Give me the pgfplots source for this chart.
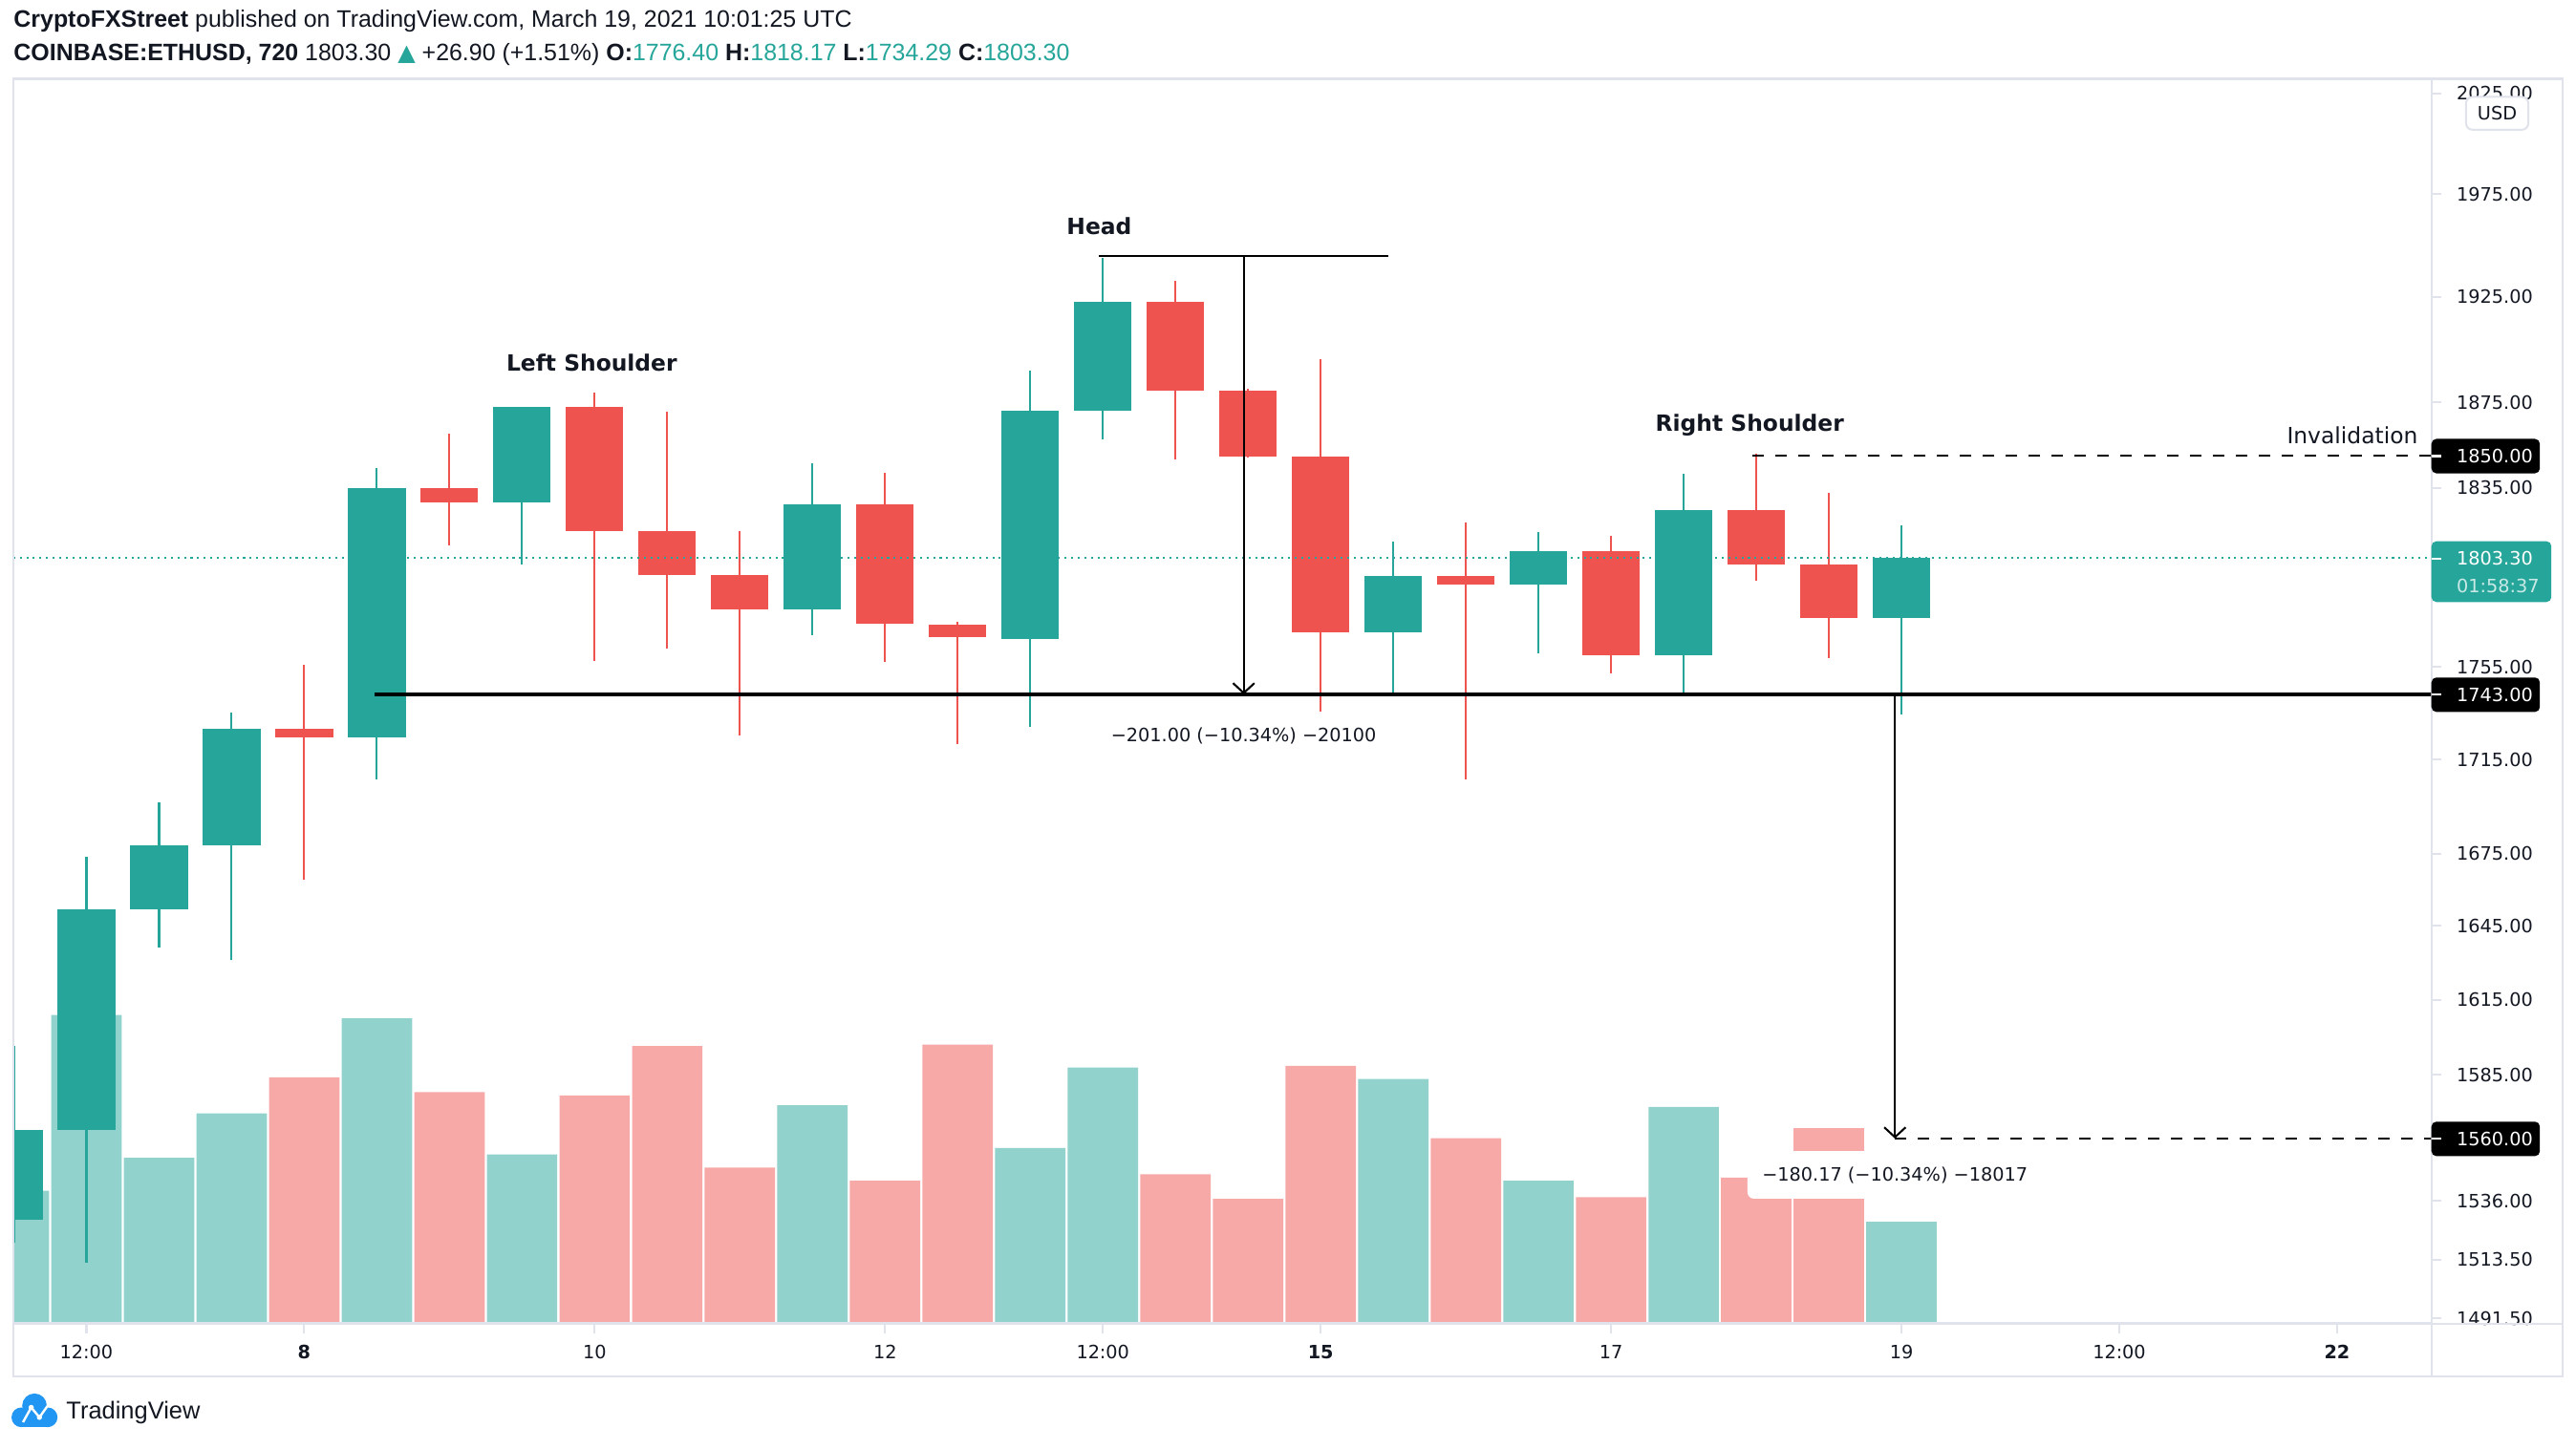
\documentclass[border=0pt]{standalone}
\usepackage{fontspec}
\setmainfont{DejaVu Sans}
\newfontfamily\hdr{Liberation Sans}
\newfontfamily\djv{DejaVu Sans}
\usepackage{pgfplots}
\pgfplotsset{compat=1.18}
\usepackage{pgfplotstable}
\usetikzlibrary{arrows.meta}

\definecolor{tvgreen}{HTML}{26A69A}
\definecolor{tvred}{HTML}{EF5350}
\definecolor{volgreen}{HTML}{92D2CC}
\definecolor{volred}{HTML}{F7A9A7}
\definecolor{tvgrid}{HTML}{E0E3EB}
\definecolor{tvtext}{HTML}{131722}
\definecolor{tvblue}{HTML}{2196F3}

\newcommand\ax{\fontsize{5.6}{8.5}\selectfont}
\newcommand\lbl{\fontsize{6.8}{8}\selectfont}

% 12h candles: index, open, high, low, close, volume (relative)
\pgfplotstableread{
i o h l c v
0 1528.7 1596.5 1520.0 1563.5 81
1 1563.5 1673.7 1512.5 1651.8 188
2 1651.8 1696.5 1636.3 1678.6 101
3 1678.6 1735.0 1631.0 1728.0 128
5 1724.5 1844.4 1706.3 1835.3 186
7 1828.5 1872.6 1800.3 1872.6 103
11 1780.4 1846.6 1768.8 1827.8 133
14 1767.4 1889.6 1728.7 1871.1 107
15 1871.1 1943.6 1857.4 1922.3 156
19 1770.3 1810.6 1743.7 1795.2 149
21 1791.5 1815.0 1761.0 1806.3 87
23 1760.2 1841.4 1743.0 1824.8 132
26 1776.4 1818.17 1734.29 1803.3 62
}\greencandles

\pgfplotstableread{
i o h l c v
4 1728.0 1755.9 1664.0 1724.5 150
6 1835.3 1860.3 1809.0 1828.5 141
8 1872.6 1879.4 1757.3 1815.8 139
9 1815.8 1870.3 1763.0 1795.8 169
10 1795.8 1815.8 1725.2 1780.4 95
12 1827.8 1842.2 1757.0 1774.0 87
13 1773.3 1775.0 1721.6 1768.0 170
16 1922.3 1932.7 1848.2 1880.2 91
17 1880.2 1881.0 1849.0 1849.7 76
18 1849.7 1895.1 1735.0 1770.3 157
20 1795.2 1819.5 1706.3 1791.5 113
22 1806.3 1813.5 1752.3 1760.2 77
24 1824.8 1851.0 1793.0 1800.3 89
25 1800.3 1833.1 1758.7 1776.7 119
}\redcandles

\pgfplotsset{candle/.style={draw=none, no markers, error bars/.cd, y dir=plus, y explicit, error mark=none}}

\begin{document}
\begin{tikzpicture}
\useasboundingbox (0,0) rectangle (784pt,441pt);
\fill[white] (0,0) rectangle (784pt,441pt);

% ---------- volume pane ----------
\begin{axis}[at={(4pt,38pt)}, anchor=south west, scale only axis,
  width=736pt, height=379pt, xmin=-0.01, xmax=33.3, ymin=0, ymax=758,
  hide axis]
\addplot[ybar, bar width=0.97, bar shift=0pt, fill=volgreen, draw=none]
  table[x=i, y=v] {\greencandles};
\addplot[ybar, bar width=0.97, bar shift=0pt, fill=volred, draw=none]
  table[x=i, y=v] {\redcandles};
\end{axis}

% ---------- price pane ----------
\begin{axis}[at={(4pt,38pt)}, anchor=south west, scale only axis,
  width=736pt, height=379pt, xmin=-0.01, xmax=33.3,
  ymode=log, ymin=1489.7, ymax=2032.5,
  axis line style={draw=tvgrid, line width=0.7pt},
  tick style={draw=tvgrid, line width=0.6pt},
  tick align=outside, major tick length=3pt,
  xtick pos=left, ytick pos=right, yticklabel pos=right,
  yminorticks=false, xminorticks=false,
  xtick={1,4,8,12,15,18,22,26,29,32},
  xticklabels={12:00,\textbf{8},10,12,12:00,\textbf{15},17,19,12:00,\textbf{22}},
  ytick={1491.5,1513.5,1536,1560,1585,1615,1645,1675,1715,1755,1795,1835,1875,1925,1975,2025},
  yticklabels={1491.50,1513.50,1536.00,1560.00,1585.00,1615.00,1645.00,1675.00,1715.00,1755.00,{},1835.00,1875.00,1925.00,1975.00,2025.00},
  yticklabel style={font=\ax, text=tvtext, anchor=west, inner xsep=0pt},
  yticklabel shift=4.5pt,
  xticklabel style={font=\ax, text=tvtext, inner ysep=0pt},
  xticklabel shift=3.5pt,
]
% wicks
\addplot[candle, error bar style={draw=tvgreen, line width=0.6pt}]
  table[x=i, y=l, y error expr=\thisrow{h}-\thisrow{l}] {\greencandles};
\addplot[candle, error bar style={draw=tvred, line width=0.6pt}]
  table[x=i, y=l, y error expr=\thisrow{h}-\thisrow{l}] {\redcandles};
% bodies
\addplot[candle, error bar style={draw=tvgreen, line width=17.5pt, line cap=butt}]
  table[x=i, y=o, y error expr=\thisrow{c}-\thisrow{o}] {\greencandles};
\addplot[candle, error bar style={draw=tvred, line width=17.5pt, line cap=butt}]
  table[x=i, y=c, y error expr=\thisrow{o}-\thisrow{c}] {\redcandles};

% last price dotted line
\draw[tvgreen, line width=0.6pt, dash pattern=on 0.6pt off 1.4pt] (axis cs:-0.01,1803.3) -- (axis cs:33.3,1803.3);
% neckline
\draw[black, line width=1pt] (axis cs:4.97,1743) -- (axis cs:33.3,1743);
% head measure
\draw[black, line width=0.6pt] (axis cs:14.95,1944.5) -- (axis cs:18.93,1944.5);
\draw[black, line width=0.6pt, -{Straight Barb[length=3pt,width=6.5pt]}] (axis cs:16.94,1944.5) -- (axis cs:16.94,1743);
% target
\draw[black, line width=0.6pt, -{Straight Barb[length=3pt,width=6.5pt]}] (axis cs:25.91,1743) -- (axis cs:25.91,1560);
\draw[black, line width=0.6pt, dash pattern=on 3.5pt off 3.5pt] (axis cs:25.91,1560) -- (axis cs:33.3,1560);
% invalidation
\draw[black, line width=0.6pt, dash pattern=on 3.5pt off 3.5pt] (axis cs:23.95,1850) -- (axis cs:33.3,1850);
\node[font=\lbl, text=tvtext, anchor=east, inner sep=0pt] at (axis cs:33.12,1859.6) {Invalidation};

% labels
\node[font=\lbl\bfseries, text=tvtext] at (axis cs:14.95,1958.9) {Head};
\node[font=\lbl\bfseries, text=tvtext] at (axis cs:7.96,1893.4) {Left Shoulder};
\node[font=\lbl\bfseries, text=tvtext] at (axis cs:23.91,1864.3) {Right Shoulder};
\node[font=\ax, text=tvtext, fill=white, rounded corners=2pt, inner xsep=4.5pt, minimum height=14.5pt] at (axis cs:16.94,1725.1) {−201.00 (−10.34\%) −20100};
\node[font=\ax, text=tvtext, fill=white, rounded corners=2pt, inner xsep=4.5pt, minimum height=14.5pt] at (axis cs:25.91,1545.9) {−180.17 (−10.34\%) −18017};

\coordinate (r1850) at (axis cs:33.3,1850);
\coordinate (r1743) at (axis cs:33.3,1743);
\coordinate (r1560) at (axis cs:33.3,1560);
\coordinate (r1803) at (axis cs:33.3,1803.3);
\end{axis}

% ---------- frame and right-side price boxes ----------
\begin{scope}[x=0.5pt, y=-0.5pt, shift={(0pt,441pt)}]
\fill[white] (1481,807) rectangle (1559,837);
\draw[tvgrid, line width=0.7pt] (8,48) rectangle (1560,838);
\draw[tvgrid, line width=0.7pt] (1480,48) -- (1480,838);
\draw[tvgrid, line width=0.7pt] (8,806) -- (1560,806);
% USD box
\draw[tvgrid, fill=white, line width=0.6pt, rounded corners=2pt] (1501,59) rectangle (1539,79);
\node[font=\ax, text=tvtext] at (1520,69) {USD};
% header
\node[anchor=west, inner sep=0pt, text=tvtext, font=\hdr\fontsize{7.25}{8}\selectfont] at (8,13)
  {\textbf{CryptoFXStreet} published on TradingView.com, March 19, 2021 10:01:25 UTC};
\node[anchor=west, inner sep=0pt, text=tvtext, font=\hdr\fontsize{7.25}{8}\selectfont] at (8,33)
  {\textbf{COINBASE:ETHUSD, 720}\ 1803.30 {\djv\color{tvgreen}\fontsize{7}{8}\selectfont ▲} +26.90 (+1.51\%) \textbf{O:}\textcolor{tvgreen}{1776.40} \textbf{H:}\textcolor{tvgreen}{1818.17} \textbf{L:}\textcolor{tvgreen}{1734.29} \textbf{C:}\textcolor{tvgreen}{1803.30}};
% TradingView logo
\fill[tvblue] (21,856) circle (7.5);
\fill[tvblue] (13,863) circle (6);
\fill[tvblue] (29,863) circle (6);
\fill[tvblue] (13,863) rectangle (29,869);
\draw[white, line width=0.7pt] (14,866) -- (19,857) -- (24,863) -- (29,856);
\fill[white] (19,857) circle (1.6);
\fill[white] (24,863) circle (1.6);
\node[anchor=west, inner sep=0pt, text=tvtext, font=\hdr\fontsize{7.4}{8}\selectfont] at (40,860) {TradingView};
\end{scope}

% price boxes on the right scale
\fill[black, rounded corners=1.5pt] (r1850) ++(0pt,-5.25pt) rectangle ++(33pt,10.5pt);
\node[anchor=west, inner sep=0pt, text=white, font=\ax] at ([xshift=7.5pt]r1850) {1850.00};
\fill[black, rounded corners=1.5pt] (r1743) ++(0pt,-5.25pt) rectangle ++(33pt,10.5pt);
\node[anchor=west, inner sep=0pt, text=white, font=\ax] at ([xshift=7.5pt]r1743) {1743.00};
\fill[black, rounded corners=1.5pt] (r1560) ++(0pt,-5.25pt) rectangle ++(33pt,10.5pt);
\node[anchor=west, inner sep=0pt, text=white, font=\ax] at ([xshift=7.5pt]r1560) {1560.00};
\fill[tvgreen, rounded corners=1.5pt] (r1803) ++(0pt,-13.25pt) rectangle ++(36.5pt,18.5pt);
\node[anchor=west, inner sep=0pt, text=white, font=\ax] at ([xshift=7.5pt]r1803) {1803.30};
\node[anchor=west, inner sep=0pt, text=white!75!tvgreen, font=\ax] at ([xshift=7.5pt,yshift=-8.5pt]r1803) {01:58:37};
\foreach \c in {r1850,r1743,r1560,r1803} \draw[white, line width=0.6pt] (\c) -- ++(3pt,0);
\end{tikzpicture}
\end{document}
